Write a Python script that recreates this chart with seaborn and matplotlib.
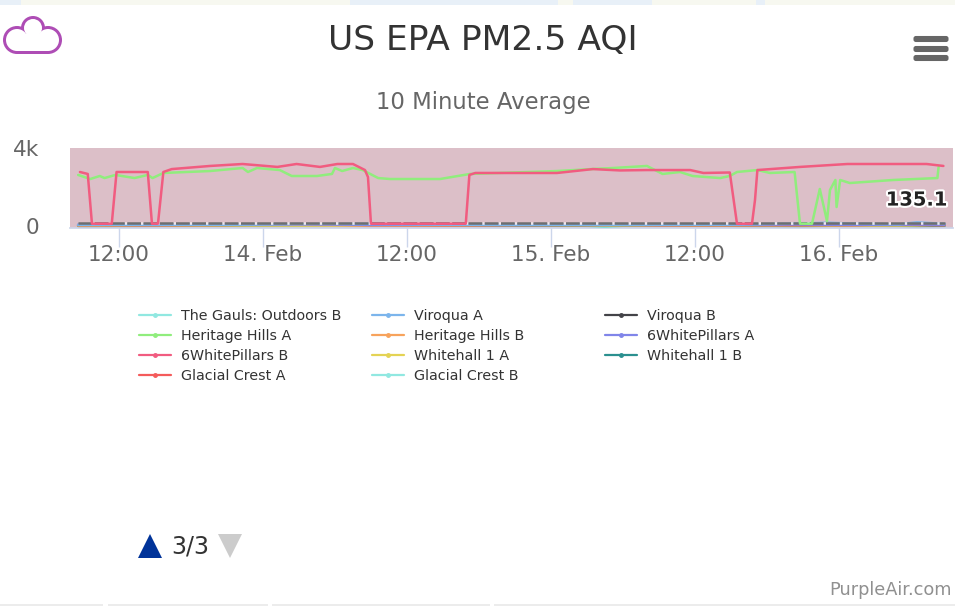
import numpy as np
import pandas as pd
import seaborn as sns
import matplotlib
matplotlib.use('Agg')
import matplotlib.pyplot as plt
import matplotlib.patheffects as pe
from matplotlib.patches import Circle, Rectangle, Polygon, FancyBboxPatch
from matplotlib.lines import Line2D

# hours counted from 14 Feb 00:00
pillars_b_hours = [-15.25, -14.6, -14.25, -12.6, -12.2, -9.6, -9.25, -8.75, -8.3, -7.6, -4.4, -1.7, 1.2, 2.8, 4.75, 6.2, 7.5,
                   8.5, 8.75, 9.0, 16.9, 17.2, 17.7, 24.5, 27.5, 29.75, 32, 34.75, 35.6, 36.7, 38.9, 39.5, 40.75, 41, 41.2,
                   44.75, 48.7, 55.3, 56.7]
pillars_b_aqi = [2770, 2670, 120, 120, 2770, 2770, 120, 120, 2770, 2920, 3080, 3180, 3030, 3180, 3030, 3180, 3180,
                 2870, 2510, 120, 120, 2620, 2720, 2720, 2920, 2850, 2870, 2870, 2870, 2720, 2745, 120, 120, 1330, 2870,
                 3030, 3180, 3180, 3080]

heritage_a_hours = [-15.4, -14.4, -13.6, -13.2, -12.3, -10.7, -9.6, -9.2, -8.3, -4.4, -1.7, -1.25, -0.5, 1.4, 2.4, 4.5, 5.75,
                    6, 6.6, 7.5, 8.3, 9.6, 10.6, 14.75, 17.25, 24.5, 27.5, 29.2, 32, 33.3, 34.75, 35.8, 38.1, 38.9, 39.5,
                    41.2, 42.25, 44.3, 44.75, 45.75, 46.4, 47, 47.25, 47.7, 47.8, 48.1, 48.9, 52.5, 56.2, 56.3]
heritage_a_aqi = [2620, 2410, 2565, 2460, 2620, 2460, 2620, 2460, 2720, 2820, 2975, 2770, 2975, 2870, 2565, 2565, 2670,
                  2975, 2820, 2975, 2870, 2460, 2410, 2410, 2670, 2820, 2925, 2975, 3080, 2670, 2770, 2565, 2460, 2565, 2770,
                  2870, 2720, 2770, 120, 120, 1900, 255, 1850, 2360, 975, 2360, 2205, 2360, 2460, 3030]

# the low series all share the same time steps
low_hours = [-15.4, -9, -3, 3, 9, 15, 21, 27, 28.5, 30, 33, 39, 45, 47, 49, 53, 54.5, 56.8]
gauls_b = [30, 25, 30, 40, 90, 30, 25, 30, 20, 30, 25, 20, 25, 30, 25, 30, 25, 25]
glacial_b = [40, 30, 35, 60, 70, 35, 30, 20, -40, 20, 30, 25, 20, 25, 30, 25, 25, 30]
viroqua_a = [60, 70, 65, 90, 110, 70, 60, 65, 70, 60, 65, 70, 130, 170, 130, 90, 190, 110]
heritage_b = [55, 40, 50, 60, 50, 45, 40, 50, 45, 55, 50, 40, 60, 50, 45, 50, 55, 45]
whitehall_a = [20, 35, 30, 25, 30, 35, 70, 40, 30, 35, 30, 40, 35, 30, 25, 30, 35, 90]
whitehall_b = [10, 15, 20, 50, 70, 40, 20, 15, 10, 15, 20, 15, 10, 15, 20, 15, 10, 15]
pillars_a = [70, 60, 80, 100, 60, 70, 90, 60, 55, 70, 60, 75, 80, 70, 60, 70, 75, 70]
glacial_a = [45, 50, 60, 90, 45, 40, 55, 60, 70, 60, 45, 50, 45, 55, 50, 90, 60, 50]

viroqua_b_hours = [-15.4, 56.8]
viroqua_b = [150, 150]

series_names = ['The Gauls: Outdoors B', 'Heritage Hills A', '6WhitePillars B', 'Glacial Crest A',
                'Viroqua A', 'Heritage Hills B', 'Whitehall 1 A', 'Glacial Crest B',
                'Viroqua B', '6WhitePillars A', 'Whitehall 1 B']
series_colors = ['#91e8e1', '#90ed7d', '#f15c80', '#f45b5b',
                 '#7cb5ec', '#f7a35c', '#e4d354', '#91e8e1',
                 '#434348', '#8085e9', '#2b908f']
x_ticks = [-12, 0, 12, 24, 36, 48]
x_labels = ['12:00', '14. Feb', '12:00', '15. Feb', '12:00', '16. Feb']
latest_value = '135.1'

sns.set_theme(style='white')
plt.rcParams['font.family'] = ['DejaVu Sans']
W, H = 955, 606
fig = plt.figure(figsize=(W / 100, H / 100), dpi=100)
ax = fig.add_axes([70 / W, 1 - 228 / H, 883 / W, 80 / H])
ax.set_facecolor('#dcbfc8')

series = {
    'The Gauls: Outdoors B': (low_hours, gauls_b), 'Glacial Crest B': (low_hours, glacial_b),
    'Whitehall 1 B': (low_hours, whitehall_b), 'Whitehall 1 A': (low_hours, whitehall_a),
    'Heritage Hills B': (low_hours, heritage_b), 'Glacial Crest A': (low_hours, glacial_a),
    '6WhitePillars A': (low_hours, pillars_a), 'Viroqua A': (low_hours, viroqua_a),
    'Viroqua B': (viroqua_b_hours, viroqua_b),
    'Heritage Hills A': (heritage_a_hours, heritage_a_aqi),
    '6WhitePillars B': (pillars_b_hours, pillars_b_aqi),
}
palette = dict(zip(series_names, series_colors))
for name, (hrs, vals) in series.items():
    df = pd.DataFrame({'hours': hrs, 'aqi': vals})
    line = sns.lineplot(data=df, x='hours', y='aqi', color=palette[name], lw=1.8, ax=ax, estimator=None, sort=False,
                        zorder=3).lines[-1]
    if name == 'Viroqua B':
        line.set_color('#6e6e70')
        line.set_linewidth(1.8)
        line.set_linestyle((0, (5.5, 1)))
        line.set_gapcolor('#f0e6e9')

ax.set_xlim(-16.08, 57.5)
ax.set_ylim(-100, 4000)
ax.set_xticks(x_ticks, x_labels)
ax.set_yticks([0, 4000], ['0', '4k'])
ax.set_xlabel('')
ax.set_ylabel('')
ax.tick_params(axis='x', bottom=True, length=14, width=1, color='#ccd6eb', labelcolor='#666666', labelsize=15.5, pad=-2)
ax.tick_params(axis='y', length=0, labelcolor='#666666', labelsize=15.5, pad=22)
for s in ax.spines.values():
    s.set_visible(False)
ax.spines['bottom'].set_visible(True)
ax.spines['bottom'].set_color('#ccd6eb')

ax.text(57.05, 1330, latest_value, ha='right', va='center', fontsize=14, fontweight='bold', color='#222222',
        path_effects=[pe.withStroke(linewidth=3, foreground='white')], zorder=6)

fig.text(483 / W, 1 - 41 / H, 'US EPA PM2.5 AQI', ha='center', va='center', fontsize=24.8, color='#333333')
fig.text(483 / W, 1 - 102 / H, '10 Minute Average', ha='center', va='center', fontsize=16.4, color='#666666')

# legend, three fixed columns filled from top to bottom
for c, left in enumerate([133, 366, 599]):
    idx = range(c * 4, min(c * 4 + 4, 11))
    handles = [Line2D([], [], color=series_colors[i], lw=1.6, marker='o', ms=2.5) for i in idx]
    fig.legend(handles, [series_names[i] for i in idx], loc='upper left', bbox_to_anchor=(left / W, 1 - 303 / H),
               frameon=False, fontsize=10.3, labelcolor='#333333', handlelength=2.25, handletextpad=0.7, labelspacing=0.42,
               borderpad=0.4, borderaxespad=0)

# page furniture drawn in pixel coordinates
top = fig.add_axes([0, 0, 1, 1], zorder=5)
top.set_xlim(0, W)
top.set_ylim(H, 0)
top.axis('off')
top.patch.set_alpha(0)

# cropped map strip at the top edge, grey strip at the bottom edge
top.add_patch(Rectangle((0, 0), W, 5, color='#f7f8f0', lw=0))
for x0, x1 in [(0, 21), (350, 558), (573, 652), (756, 765)]:
    top.add_patch(Rectangle((x0, 0), x1 - x0, 5, color='#e8f0f8', lw=0))
for x0, x1 in [(0, 103), (108, 268), (272, 490), (494, 955)]:
    top.add_patch(Rectangle((x0, 604), x1 - x0, 2, color='#ececec', lw=0))

# cloud icon
cloud = [(33, 28, 12), (17, 40, 14), (48, 40, 14)]
for (cx, cy, r) in cloud:
    top.add_patch(Circle((cx, cy), r, color='#ae4db5', lw=0))
top.add_patch(Rectangle((17, 36), 31, 18, color='#ae4db5', lw=0))
for (cx, cy, r) in cloud:
    top.add_patch(Circle((cx, cy), r - 3, color='white', lw=0))
top.add_patch(Rectangle((17, 34), 31, 17, color='white', lw=0))

# menu icon
for y in [37.5, 47.5, 56.5]:
    top.add_patch(FancyBboxPatch((915, y), 32, 3, boxstyle='round,pad=0,rounding_size=1', mutation_aspect=1,
                                 fc='#666666', ec='#666666', lw=2.2))

# pager
top.add_patch(Polygon([(138, 558), (162, 558), (150, 534)], color='#003399', lw=0))
top.add_patch(Polygon([(218, 534), (242, 534), (230, 558)], color='#cccccc', lw=0))
top.text(190, 546, '3/3', ha='center', va='center', fontsize=17, color='#333333')

top.text(952, 590, 'PurpleAir.com', ha='right', va='center', fontsize=12.8, color='#909090')

fig.savefig('out.png', dpi=100, facecolor='white')
